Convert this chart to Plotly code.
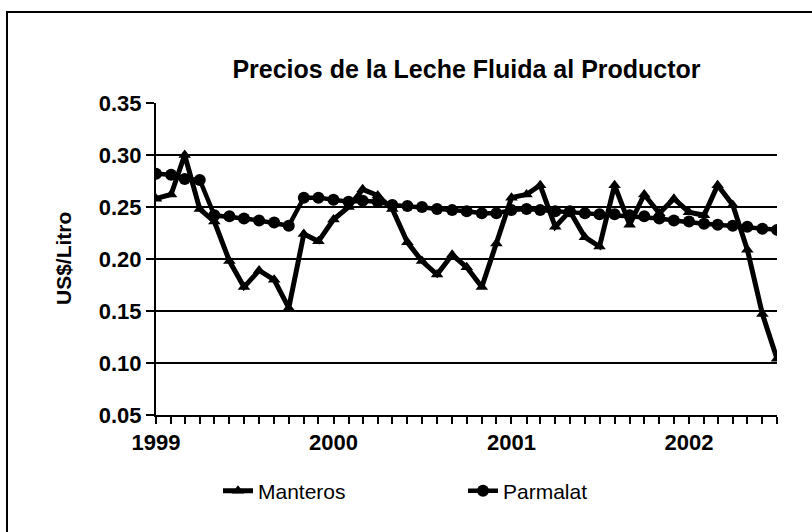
import plotly.graph_objects as go

# Monthly data, Jan 1999 - Jul 2002
months = [f"{1999 + i // 12}-{i % 12 + 1:02d}-01" for i in range(43)]

manteros = [0.258, 0.262, 0.300, 0.248, 0.236, 0.198, 0.173, 0.189, 0.180, 0.153,
            0.224, 0.217, 0.238, 0.250, 0.267, 0.261, 0.248, 0.216, 0.198, 0.185,
            0.204, 0.192, 0.173, 0.215, 0.259, 0.262, 0.271, 0.231, 0.246, 0.221,
            0.212, 0.271, 0.233, 0.262, 0.244, 0.258, 0.245, 0.242, 0.271, 0.252,
            0.209, 0.147, 0.104]

parmalat = [0.282, 0.281, 0.277, 0.276, 0.242, 0.241, 0.239, 0.237, 0.235, 0.232,
            0.259, 0.259, 0.257, 0.255, 0.256, 0.255, 0.252, 0.251, 0.250, 0.248,
            0.247, 0.246, 0.244, 0.244, 0.247, 0.248, 0.247, 0.246, 0.246, 0.244,
            0.243, 0.243, 0.242, 0.241, 0.239, 0.237, 0.236, 0.234, 0.233, 0.232,
            0.231, 0.229, 0.228]

year_ticks = ["1999-01-01", "2000-01-01", "2001-01-01", "2002-01-01"]
year_labels = ["1999", "2000", "2001", "2002"]

FONT = "Liberation Sans, Arial, sans-serif"

fig = go.Figure()
fig.add_trace(go.Scatter(
    x=months, y=manteros, name="Manteros", mode="lines+markers",
    line=dict(color="black", width=5),
    marker=dict(symbol="triangle-up", size=11, color="black"),
))
fig.add_trace(go.Scatter(
    x=months, y=parmalat, name="Parmalat", mode="lines+markers",
    line=dict(color="black", width=4.5),
    marker=dict(symbol="circle", size=12, color="black"),
))

W, H = 812, 532
L, R, T, B = 156, 35, 103, 117
pw, ph = W - L - R, H - T - B

def px_x(p):
    return (p - L) / pw

def px_y(p):
    return (H - B - p) / ph

fig.update_layout(
    width=W, height=H,
    margin=dict(l=L, r=R, t=T, b=B),
    paper_bgcolor="white", plot_bgcolor="white",
    font=dict(family=FONT, color="black"),
    title=dict(text="<b>Precios de la Leche Fluida al Productor</b>",
               x=0.5, xref="paper", y=1 - 69 / H, yref="container",
               xanchor="center", yanchor="middle",
               font=dict(size=25, family=FONT, color="black")),
    showlegend=True,
    legend=dict(orientation="h", x=px_x(218), y=px_y(491), xanchor="left", yanchor="middle",
                font=dict(size=21, family=FONT, color="black"),
                entrywidth=200, entrywidthmode="pixels",
                bgcolor="rgba(0,0,0,0)"),
    xaxis=dict(type="date", range=["1999-01-01", "2002-07-01"],
               tickvals=year_ticks, ticktext=year_labels,
               ticks="outside", ticklen=7, tickwidth=1.5, tickcolor="black",
               minor=dict(dtick="M1", tick0="1999-01-01", ticks="outside", ticklen=7,
                          tickwidth=1.5, tickcolor="black", showgrid=False),
               showline=True, linecolor="black", linewidth=2,
               showgrid=False, zeroline=False,
               tickfont=dict(size=22, family=FONT, color="black", weight="bold")),
    yaxis=dict(range=[0.05, 0.35], dtick=0.05, tick0=0.05, tickformat=".2f",
               ticks="outside", ticklen=8, tickwidth=1.5, tickcolor="black",
               showline=True, linecolor="black", linewidth=2,
               showgrid=True, gridcolor="black", gridwidth=2, zeroline=False,
               tickfont=dict(size=22, family=FONT, color="black", weight="bold")),
    annotations=[dict(text="<b>US$/Litro</b>", textangle=-90,
                      x=px_x(63), y=px_y(259), xref="paper", yref="paper",
                      xanchor="center", yanchor="middle", showarrow=False,
                      font=dict(size=21, family=FONT, color="black"))],
    shapes=[dict(type="rect", xref="paper", yref="paper",
                 x0=px_x(7), x1=px_x(830), y0=px_y(560), y1=px_y(12),
                 line=dict(color="black", width=2), fillcolor="rgba(0,0,0,0)",
                 layer="below")],
)

fig.write_html("out.html",
               config={"displayModeBar": False},
               post_script="document.body.style.margin='0px';"
                           "document.body.style.overflow='hidden';")
